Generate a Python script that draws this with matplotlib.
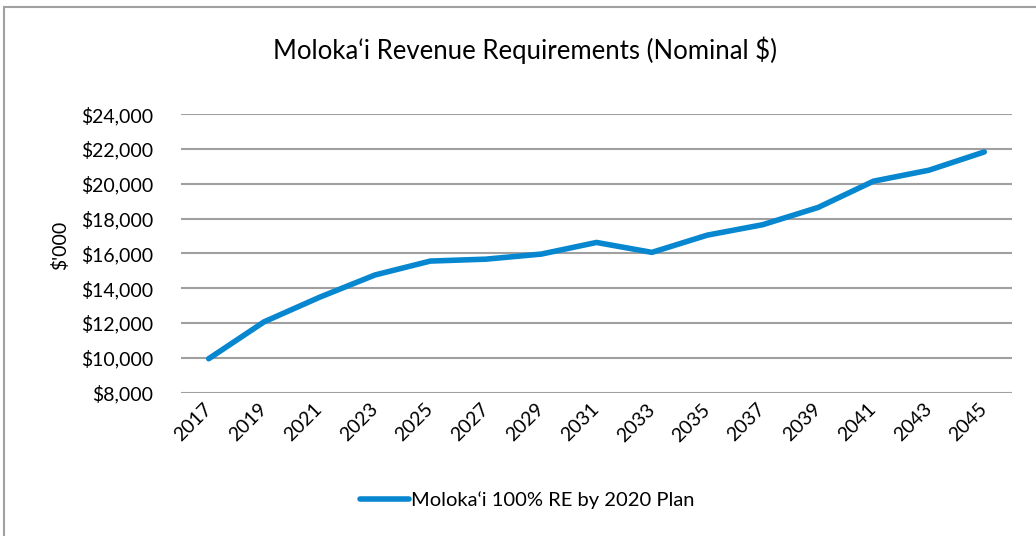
import matplotlib
matplotlib.use("Agg")
from matplotlib import pyplot as plt
from matplotlib.patches import Rectangle
from matplotlib.ticker import FuncFormatter

plt.rcParams['font.family'] = ['Lato', 'DejaVu Sans']

# values ($'000)
years = ['2017', '2019', '2021', '2023', '2025', '2027', '2029', '2031',
         '2033', '2035', '2037', '2039', '2041', '2043', '2045']
revenue = [9950, 12070, 13480, 14760, 15560, 15670, 15960, 16630,
           16060, 17050, 17650, 18640, 20150, 20780, 21830]
y_ticks = [8000, 10000, 12000, 14000, 16000, 18000, 20000, 22000, 24000]

title = "Moloka\u2018i Revenue Requirements (Nominal $)"
series_name = "Moloka\u2018i 100% RE by 2020 Plan"

fig = plt.figure(figsize=(10.36, 5.36), dpi=100)
ax = fig.add_axes([0.1747, 0.2674, 0.8021, 0.5196])

x = range(len(years))
ax.plot(x, revenue, color='#0787CF', lw=4.0, solid_capstyle='round',
        solid_joinstyle='round', label=series_name)

ax.set_xlim(-0.5, len(years) - 0.5)
ax.set_ylim(y_ticks[0], y_ticks[-1])
ax.set_yticks(y_ticks)
ax.yaxis.set_major_formatter(FuncFormatter(lambda v, p: "${:,.0f}".format(v)))
ax.set_xticks(list(x))
ax.set_xticklabels(years, rotation=45, ha='right', va='center',
                   rotation_mode='anchor')

ax.grid(axis='y', color='#A0A0A0', lw=1.5)
ax.set_axisbelow(True)
for s in ax.spines.values():
    s.set_visible(False)
ax.tick_params(axis='y', length=0, pad=20, labelsize=14)
ax.tick_params(axis='x', length=0, pad=10, labelsize=14)

fig.text(0.058, 0.543, "$'000", rotation=90, ha='center', va='center',
         fontsize=14)
fig.text(0.507, 0.907, title, ha='center', va='center', fontsize=18.5)

fig.legend(loc='center', bbox_to_anchor=(0.509, 0.067), frameon=False,
           fontsize=14.5, handlelength=2.4, handletextpad=0.1)

# chart area border, cut off at right and bottom like the source image
fig.patches.append(Rectangle((4 / 1036, -0.05), 1.1, 1 - 7 / 536 + 0.05,
                             transform=fig.transFigure, fill=False,
                             edgecolor='#A0A0A0', lw=1.5))

fig.savefig('out.png', dpi=100)
